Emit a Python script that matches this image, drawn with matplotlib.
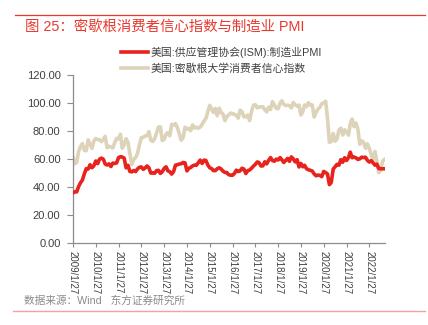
import matplotlib
matplotlib.use("Agg")
import matplotlib.pyplot as plt
from matplotlib.lines import Line2D
import pandas as pd

plt.rcParams['font.family'] = ['Liberation Sans', 'Noto Sans CJK SC', 'DejaVu Sans']

# Monthly series, Jan 2009 - Sep 2022
ism_pmi = [
    35.6, 36.4, 36.3, 40.1, 42.8, 44.8, 49.1, 52.9, 52.6, 55.7, 53.6, 54.9,   # 2009
    58.4, 56.5, 59.6, 60.4, 59.7, 56.2, 55.5, 56.3, 54.4, 56.9, 56.6, 57.0,   # 2010
    60.8, 61.4, 61.2, 60.4, 53.5, 55.3, 50.9, 50.6, 51.6, 50.8, 52.7, 53.9,   # 2011
    54.1, 52.4, 53.4, 54.8, 53.5, 49.7, 49.8, 49.6, 51.5, 51.7, 49.5, 50.7,   # 2012
    53.1, 54.2, 51.3, 50.7, 49.0, 50.9, 55.4, 55.7, 56.2, 56.4, 57.3, 57.0,   # 2013
    51.3, 53.2, 53.7, 54.9, 55.4, 55.3, 57.1, 59.0, 56.6, 59.0, 58.7, 55.5,   # 2014
    53.5, 52.9, 51.5, 51.5, 52.8, 53.5, 52.7, 51.1, 50.2, 50.1, 48.6, 48.2,   # 2015
    48.2, 49.5, 51.8, 50.8, 51.3, 53.2, 52.6, 49.4, 51.5, 51.9, 53.2, 54.7,   # 2016
    56.0, 57.7, 57.2, 54.8, 54.9, 57.8, 56.3, 58.8, 60.8, 58.7, 58.2, 59.7,   # 2017
    59.1, 60.8, 59.3, 57.3, 58.7, 60.2, 58.1, 61.3, 59.8, 57.7, 59.3, 54.1,   # 2018
    56.6, 54.2, 55.3, 52.8, 52.1, 51.7, 51.2, 49.1, 47.8, 48.3, 48.1, 47.2,   # 2019
    50.9, 50.1, 49.1, 41.5, 43.1, 52.6, 54.2, 56.0, 55.4, 59.3, 57.5, 60.7,   # 2020
    58.7, 60.8, 64.7, 60.7, 61.2, 60.6, 59.5, 59.9, 61.1, 60.8, 61.1, 58.8,   # 2021
    57.6, 58.6, 57.1, 55.4, 56.1, 53.0, 52.8, 52.8, 52.8,                     # 2022
]

michigan = [
    61.2, 56.3, 57.3, 65.1, 68.7, 70.8, 66.0, 65.7, 73.5, 70.6, 67.4, 72.5,   # 2009
    74.4, 73.6, 73.6, 72.2, 73.6, 76.0, 67.8, 68.9, 68.2, 67.7, 71.6, 74.5,   # 2010
    74.2, 77.5, 67.5, 69.8, 74.3, 71.5, 63.7, 55.8, 59.5, 60.8, 63.7, 69.9,   # 2011
    75.0, 75.3, 76.2, 76.4, 79.3, 73.2, 72.3, 74.3, 78.3, 82.6, 82.7, 72.9,   # 2012
    73.8, 77.6, 78.6, 76.4, 84.5, 84.1, 85.1, 82.1, 77.5, 73.2, 75.1, 82.5,   # 2013
    81.2, 81.6, 80.0, 84.1, 81.9, 82.5, 81.8, 82.5, 84.6, 86.9, 88.8, 93.6,   # 2014
    98.1, 95.4, 93.0, 95.9, 90.7, 96.1, 93.1, 91.9, 87.2, 90.0, 91.3, 92.6,   # 2015
    92.0, 91.7, 91.0, 89.0, 94.7, 93.5, 90.0, 89.8, 91.2, 87.2, 93.8, 98.2,   # 2016
    98.5, 96.3, 96.9, 97.0, 97.1, 95.0, 93.4, 96.8, 95.1, 100.7, 98.5, 95.9,  # 2017
    95.7, 99.7, 101.4, 98.8, 98.0, 98.2, 97.9, 96.2, 100.1, 98.6, 97.5, 98.3, # 2018
    91.2, 93.8, 98.4, 97.2, 100.0, 98.2, 98.4, 89.8, 93.2, 95.5, 96.8, 99.3,  # 2019
    99.8, 101.0, 89.1, 71.8, 72.3, 78.1, 72.5, 74.1, 80.4, 81.8, 76.9, 80.7,  # 2020
    79.0, 76.8, 84.9, 88.3, 82.9, 85.5, 81.2, 70.3, 72.8, 71.7, 67.4, 70.6,   # 2021
    67.2, 62.8, 59.4, 65.2, 58.4, 50.0, 51.5, 58.2, 59.5,                     # 2022
]

dates = pd.date_range('2009-01-01', periods=len(ism_pmi), freq='MS') + pd.Timedelta(days=26)
tick_dates = pd.date_range('2009-01-01', '2022-01-01', freq='YS') + pd.Timedelta(days=26)
tick_labels = [f"{d.year}/1/27" for d in tick_dates]

label_pmi = '美国:供应管理协会(ISM):制造业PMI'
label_mich = '美国:密歇根大学消费者信心指数'
title = '图 25：密歇根消费者信心指数与制造业 PMI'
source = '数据来源：Wind   东方证券研究所'

RED = '#E8231E'
BEIGE = '#DDD3B8'
AXIS = '#8C8C8C'
TEXT = '#404040'

fig = plt.figure(figsize=(4.28, 3.25), dpi=100)
fig.patch.set_facecolor('white')
ax = fig.add_axes([73 / 428, 1 - 242.7 / 325, (385 - 73) / 428, (242.7 - 74.7) / 325])

ax.plot(dates, michigan, color=BEIGE, lw=2.6, solid_joinstyle='round', zorder=2)
ax.plot(dates, ism_pmi, color=RED, lw=2.6, solid_joinstyle='round', zorder=3)

ax.set_ylim(0, 120)
ax.set_yticks(range(0, 121, 20))
ax.set_yticklabels([f"{v:.2f}" for v in range(0, 121, 20)], fontsize=8, color=TEXT)
ax.set_xlim(pd.Timestamp('2009-01-27'), pd.Timestamp('2022-10-05'))
ax.set_xticks(tick_dates)
ax.set_xticklabels(tick_labels, rotation=270, fontsize=7, color=TEXT, va='top', ha='center')

for side in ('top', 'right'):
    ax.spines[side].set_visible(False)
for side in ('left', 'bottom'):
    ax.spines[side].set_color(AXIS)
    ax.spines[side].set_linewidth(0.9)
ax.tick_params(axis='y', direction='out', length=4, width=0.8, color=AXIS, pad=5)
ax.tick_params(axis='x', direction='out', length=3, width=0.8, color=AXIS, pad=3)

handles = [Line2D([], [], color=RED, lw=2.6), Line2D([], [], color=BEIGE, lw=2.6)]
fig.legend(handles, [label_pmi, label_mich], loc='upper left',
           bbox_to_anchor=(121 / 428, 1 - 47 / 325), frameon=False, fontsize=7.8,
           handlelength=2.5, handletextpad=0.25, labelspacing=0.45, borderpad=0,
           borderaxespad=0, labelcolor=TEXT)

# header and footer
fig.add_artist(Line2D([15 / 428, 425 / 428], [1 - 15 / 325] * 2, color='#E8392F', lw=0.9))
fig.text(25 / 428, 1 - 27 / 325, title, color='#E8392F', fontsize=10.4, va='center', ha='left')
fig.text(24 / 428, 1 - 301 / 325, source, color='#8A8A8A', fontsize=7.7, va='center', ha='left')
fig.add_artist(Line2D([13 / 428, 425 / 428], [1 - 311 / 325] * 2, color='#F3A39C', lw=1.0))

fig.savefig('out.png', dpi=100, facecolor='white')
